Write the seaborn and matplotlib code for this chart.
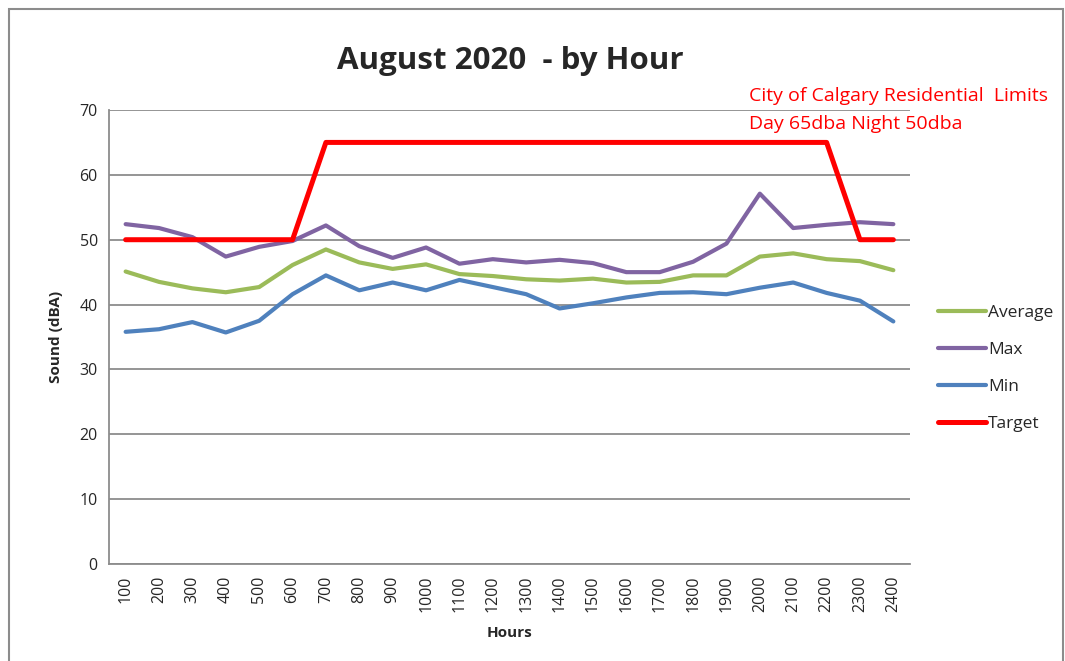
import matplotlib
matplotlib.use('Agg')
import matplotlib.pyplot as plt
from matplotlib.patches import Rectangle
import seaborn as sns
import pandas as pd

hours = ['100', '200', '300', '400', '500', '600', '700', '800', '900', '1000', '1100', '1200',
         '1300', '1400', '1500', '1600', '1700', '1800', '1900', '2000', '2100', '2200', '2300', '2400']
average = [45.1, 43.5, 42.5, 41.9, 42.7, 46.1, 48.5, 46.5, 45.5, 46.2, 44.7, 44.4,
           43.9, 43.7, 44.0, 43.4, 43.5, 44.5, 44.5, 47.4, 47.9, 47.0, 46.7, 45.3]
maximum = [52.4, 51.8, 50.4, 47.4, 48.9, 49.8, 52.2, 49.0, 47.2, 48.8, 46.3, 47.0,
           46.5, 46.9, 46.4, 45.0, 45.0, 46.6, 49.4, 57.1, 51.8, 52.3, 52.7, 52.4]
minimum = [35.8, 36.2, 37.3, 35.7, 37.5, 41.6, 44.5, 42.2, 43.4, 42.2, 43.8, 42.7,
           41.6, 39.4, 40.2, 41.1, 41.8, 41.9, 41.6, 42.6, 43.4, 41.8, 40.6, 37.4]
target = [50, 50, 50, 50, 50, 50, 65, 65, 65, 65, 65, 65,
          65, 65, 65, 65, 65, 65, 65, 65, 65, 65, 50, 50]

df = pd.DataFrame({'Hours': hours, 'Average': average, 'Max': maximum,
                   'Min': minimum, 'Target': target})

sns.set_style('white')
plt.rcParams['font.family'] = ['Open Sans', 'DejaVu Sans']

fig = plt.figure(figsize=(10.65, 6.61), dpi=100)
ax = fig.add_axes([0.1023, 0.1467, 0.7522, 0.6869])

# 시리즈 그리기
styles = [('Average', '#9BBB59', 3.0), ('Max', '#8064A2', 3.0),
          ('Min', '#4F81BD', 3.0), ('Target', '#FF0000', 3.6)]
for name, color, lw in styles:
    sns.lineplot(data=df, x='Hours', y=name, ax=ax, color=color, linewidth=lw,
                 label=name, sort=False)

ax.set_xlim(-0.5, len(hours) - 0.5)
ax.set_ylim(0, 70)
ax.set_yticks(range(0, 71, 10))
ax.grid(axis='y', color='#8C8C8C', linewidth=1.3)
ax.set_axisbelow(True)
for s in ['top', 'right']:
    ax.spines[s].set_visible(False)
for s in ['left', 'bottom']:
    ax.spines[s].set_color('#8C8C8C')
    ax.spines[s].set_linewidth(1.3)
ax.tick_params(axis='both', length=0, labelsize=11.5, pad=8)
plt.setp(ax.get_xticklabels(), rotation=90)

ax.set_xlabel('Hours', fontsize=11, fontweight='bold', labelpad=10)
ax.set_ylabel('Sound (dBA)', fontsize=11, fontweight='bold', labelpad=12)

fig.text(0.479, 0.908, 'August 2020  - by Hour', ha='center', va='center',
         fontsize=22.5, fontweight='bold')
fig.text(0.703, 0.855, 'City of Calgary Residential  Limits', color='#FF0000',
         fontsize=14, va='center')
fig.text(0.703, 0.812, 'Day 65dba Night 50dba', color='#FF0000',
         fontsize=14, va='center')

ax.legend(loc='center left', bbox_to_anchor=(1.015, 0.43), frameon=False,
          fontsize=12.5, handlelength=2.8, handletextpad=0.1, labelspacing=1.2)

# 외곽 테두리
fig.patches.append(Rectangle((0.008, -0.01), 0.99, 0.997, transform=fig.transFigure,
                             fill=False, edgecolor='#8C8C8C', linewidth=1.5))

fig.savefig('out.png', dpi=100)
